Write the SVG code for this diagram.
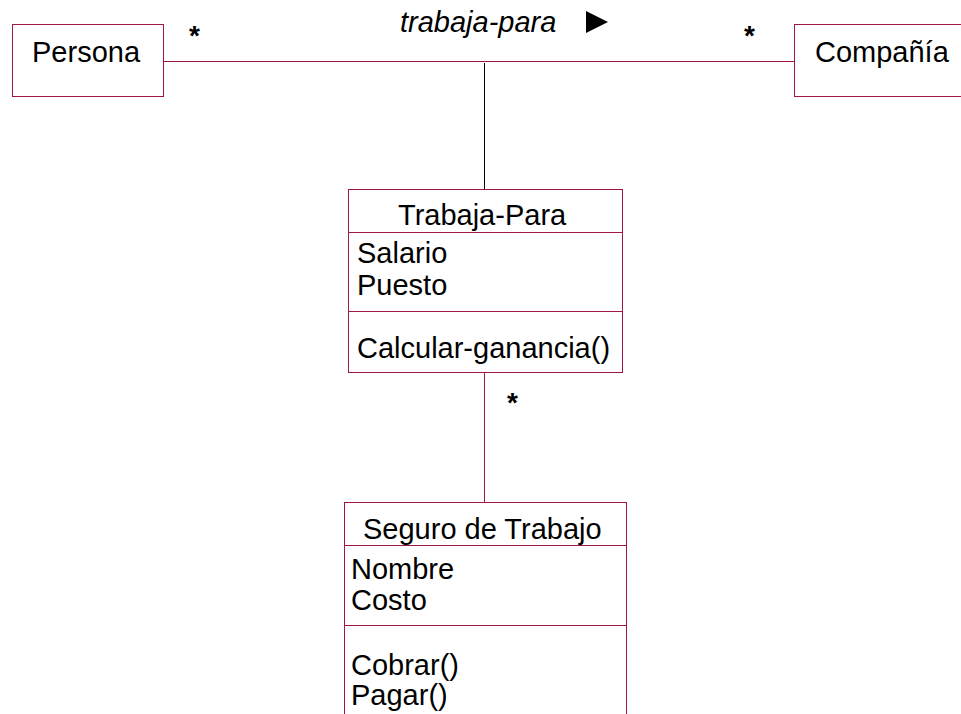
<svg xmlns="http://www.w3.org/2000/svg" width="961" height="714" viewBox="0 0 961 714">
<style>
.box{fill:#ffffff;stroke:#a0154a;stroke-width:1}
.div{stroke:#a0154a;stroke-width:1}
.t{font-family:"Liberation Sans",Arial,sans-serif;font-size:29px;fill:#000000}
.it{font-style:italic}
.star{font-family:"Liberation Sans",Arial,sans-serif;font-size:28px;font-weight:bold;fill:#000000}
.conn{stroke:#a0154a;stroke-width:1;fill:none}
</style>
<rect width="961" height="714" fill="#ffffff"/>
<g id="connectors">
<line class="conn" x1="163" y1="61.5" x2="794" y2="61.5"/>
<line x1="484.5" y1="63" x2="484.5" y2="189" stroke="#000000" stroke-width="1"/>
<line class="conn" x1="484.5" y1="372" x2="484.5" y2="502"/>
<text class="t it" x="400" y="32">trabaja-para</text>
<polygon points="586,11 608,22 586,33" fill="#000000"/>
<text class="star" x="189" y="45">*</text>
<text class="star" x="744" y="45">*</text>
<text class="star" x="507" y="412">*</text>
</g>
<g id="persona">
<rect class="box" x="12.5" y="24.5" width="151" height="72"/>
<text class="t" x="32" y="62">Persona</text>
</g>
<g id="compania">
<rect class="box" x="794.5" y="24.5" width="180" height="72"/>
<text class="t" x="815" y="62">Compañía</text>
</g>
<g id="trabaja-para">
<rect class="box" x="348.5" y="189.5" width="274" height="183"/>
<line class="div" x1="348.5" y1="232.5" x2="622.5" y2="232.5"/>
<line class="div" x1="348.5" y1="311.5" x2="622.5" y2="311.5"/>
<text class="t" x="398" y="225">Trabaja-Para</text>
<text class="t" x="357" y="263">Salario</text>
<text class="t" x="357" y="295">Puesto</text>
<text class="t" x="357" y="358">Calcular-ganancia()</text>
</g>
<g id="seguro-de-trabajo">
<rect class="box" x="344.5" y="502.5" width="282" height="240"/>
<line class="div" x1="344.5" y1="545.5" x2="626.5" y2="545.5"/>
<line class="div" x1="344.5" y1="625.5" x2="626.5" y2="625.5"/>
<text class="t" x="363" y="539">Seguro de Trabajo</text>
<text class="t" x="351" y="579">Nombre</text>
<text class="t" x="351" y="610">Costo</text>
<text class="t" x="351" y="675">Cobrar()</text>
<text class="t" x="351" y="705">Pagar()</text>
</g>
</svg>
